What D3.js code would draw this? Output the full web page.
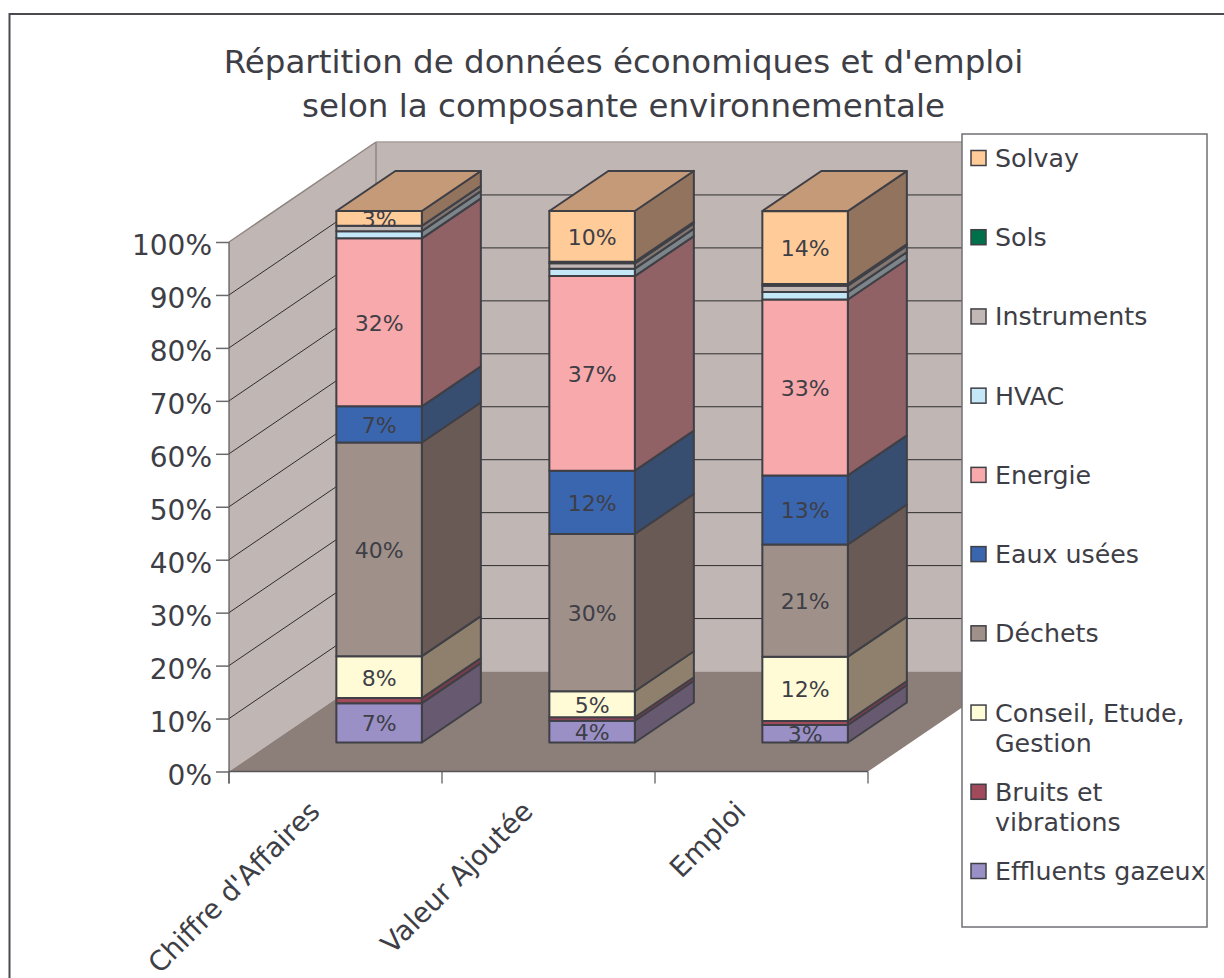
<!DOCTYPE html>
<html><head><meta charset="utf-8">
<script src="https://cdn.jsdelivr.net/npm/d3@7/dist/d3.min.js"></script>
<style>html,body{margin:0;padding:0;background:#fff;overflow:hidden}svg{display:block}text{font-family:"DejaVu Sans",Verdana,sans-serif;fill:#3e3e46}</style>
</head><body><svg id="c" width="1224" height="978"></svg>
<script>
const categories = ["Chiffre d'Affaires", "Valeur Ajoutée", "Emploi"];
const seriesNames = ["Effluents gazeux", "Bruits et vibrations", "Conseil, Etude, Gestion", "Déchets", "Eaux usées", "Energie", "HVAC", "Instruments", "Sols", "Solvay"];
const effluents = [7.4, 4.1, 3.3];
const bruits = [0.95, 0.65, 0.75];
const conseil = [7.9, 4.9, 12.1];
const dechets = [40.2, 29.6, 21.1];
const eaux = [6.8, 11.9, 13.0];
const energie = [31.6, 36.6, 33.1];
const hvac = [1.36, 1.4, 1.4];
const instruments = [1.0, 1.0, 1.2];
const sols = [0.0, 0.3, 0.3];
const solvay = [2.8, 9.6, 13.7];
const yTicks = [0, 10, 20, 30, 40, 50, 60, 70, 80, 90, 100];
const titleLines = ["Répartition de données économiques et d'emploi", "selon la composante environnementale"];

const frontColors = ["#9a90c6", "#a04a5c", "#fffbd6", "#9f908a", "#3a66b0", "#f8a9ac", "#c4e8f8", "#c1b7b4", "#00704a", "#ffcc99"];
const sideColors = ["#675a70", "#7c3c4c", "#8f7f6d", "#6a5a55", "#384e70", "#906165", "#7c8589", "#807672", "#2a4a3f", "#91735e"];
const topColor = "#c49a78";
const ink = "#3f3f46";

const svg = d3.select("#c");
const allSeries = [effluents, bruits, conseil, dechets, eaux, energie, hvac, instruments, sols, solvay];
const rows = categories.map((c, i) => {
  const r = {cat: c};
  seriesNames.forEach((s, k) => r[s] = allSeries[k][i]);
  return r;
});
const stacked = d3.stack().keys(seriesNames)(rows);

// frame
svg.append("rect").attr("x", 9.5).attr("y", 14).attr("width", 1300).attr("height", 1100)
  .attr("fill", "#fff").attr("stroke", "#4a4a50").attr("stroke-width", 2);

// title
svg.append("g").selectAll("text").data(titleLines).join("text")
  .attr("x", 623.5).attr("y", (d, i) => 73 + i * 44).attr("text-anchor", "middle")
  .attr("font-size", 32.5).text(d => d);

// scales
const xBand = d3.scaleBand().domain(categories).range([229, 868]);
const yAxisScale = d3.scaleLinear().domain([0, 100]).range([771.5, 242]);
const yBar = d3.scaleLinear().domain([0, 100]).range([742.5, 211]);
const wallDx = 147, wallDy = -100;
const barDx = 59, barDy = -40, barW = 85.5, barShift = 43.6;
const path = pts => "M" + pts.map(p => p.join(",")).join("L") + "Z";

// walls and floor
const y0 = yAxisScale(0), y100 = yAxisScale(100);
svg.append("path").attr("d", path([[229, y0], [229, y100], [229 + wallDx, y100 + wallDy], [229 + wallDx, y0 + wallDy]])).attr("fill", "#c0b6b3");
svg.append("path").attr("d", path([[229 + wallDx, y100 + wallDy], [1100, y100 + wallDy], [1100, y0 + wallDy], [229 + wallDx, y0 + wallDy]])).attr("fill", "#c0b6b3");
svg.append("path").attr("d", path([[229, y0], [868, y0], [868 + wallDx, y0 + wallDy], [229 + wallDx, y0 + wallDy]])).attr("fill", "#8c7e79");
svg.append("line").attr("x1", 229 + wallDx).attr("x2", 229 + wallDx).attr("y1", y100 + wallDy).attr("y2", y0 + wallDy).attr("stroke", "#8f8582").attr("stroke-width", 1.5);
svg.append("line").attr("x1", 229).attr("x2", 229 + wallDx).attr("y1", y100).attr("y2", y100 + wallDy).attr("stroke", "#8f8582").attr("stroke-width", 1.5);
svg.append("line").attr("x1", 229 + wallDx).attr("x2", 1100).attr("y1", y100 + wallDy).attr("y2", y100 + wallDy).attr("stroke", "#a89e9b").attr("stroke-width", 1.5);

// gridlines
const grid = svg.append("g").attr("fill", "none").attr("stroke", "#2e2e2e").attr("stroke-width", 1);
yTicks.filter(t => t > 0 && t < 100).forEach(t => {
  const y = yAxisScale(t);
  grid.append("path").attr("d", `M229,${y}L${229 + wallDx},${y + wallDy}L1100,${y + wallDy}`);
});

// y axis
const yAxis = d3.axisLeft(yAxisScale).tickValues(yTicks).tickFormat(d => d + "%").tickSize(13).tickPadding(4);
const gy = svg.append("g").attr("transform", "translate(229,0)").call(yAxis);
gy.selectAll("text").attr("font-size", 28).attr("fill", "#3e3e46").attr("dy", "0.46em").style("font-family", '"DejaVu Sans",sans-serif');
gy.selectAll("line").attr("stroke", "#6a6a6e").attr("stroke-width", 1.5);
gy.select(".domain").attr("stroke", "#55555a").attr("stroke-width", 1.2).attr("d", `M229,${y100}V${y0 + 12}`).attr("transform", "translate(-229,0)");

// x axis
const gx = svg.append("g");
gx.append("line").attr("x1", 229).attr("x2", 868).attr("y1", y0).attr("y2", y0).attr("stroke", "#55555a").attr("stroke-width", 1.5);
[0, 1, 2, 3].forEach(i => {
  const x = 229 + i * xBand.step();
  gx.append("line").attr("x1", x).attr("x2", x).attr("y1", y0).attr("y2", y0 + 12).attr("stroke", "#55555a").attr("stroke-width", 1.2);
});
gx.selectAll("text").data(categories).join("text")
  .attr("text-anchor", "end").attr("font-size", 27.5)
  .attr("transform", d => `translate(${xBand(d) + xBand.bandwidth() / 2 - 14},813) rotate(-45)`)
  .text(d => d);

// bars
const gb = svg.append("g").attr("stroke", ink).attr("stroke-width", 2).attr("stroke-linejoin", "round");
const labels = [];
categories.forEach((c, i) => {
  const x0 = xBand(c) + xBand.bandwidth() / 2 + barShift - barW / 2, x1 = x0 + barW;
  stacked.forEach((layer, k) => {
    const v0 = layer[i][0], v1 = layer[i][1];
    if (v1 - v0 <= 0) return;
    const yb = yBar(v0), yt = yBar(v1);
    gb.append("path").attr("fill", sideColors[k]).attr("d", path([[x1, yb], [x1 + barDx, yb + barDy], [x1 + barDx, yt + barDy], [x1, yt]]));
    gb.append("path").attr("fill", frontColors[k]).attr("d", path([[x0, yb], [x1, yb], [x1, yt], [x0, yt]]));
    if (v1 - v0 >= 2.5) labels.push({x: (x0 + x1) / 2, y: (yb + yt) / 2, t: Math.round(v1 - v0) + "%"});
  });
  const yTop = yBar(100);
  gb.append("path").attr("fill", topColor).attr("d", path([[x0, yTop], [x1, yTop], [x1 + barDx, yTop + barDy], [x0 + barDx, yTop + barDy]]));
});
svg.append("g").selectAll("text").data(labels).join("text")
  .attr("x", d => d.x).attr("y", d => d.y + 8.5).attr("text-anchor", "middle").attr("font-size", 22).text(d => d.t);

// legend
svg.append("rect").attr("x", 962).attr("y", 134).attr("width", 245).attr("height", 793).attr("fill", "#fff").attr("stroke", "#707076").attr("stroke-width", 1.5);
const legendNames = seriesNames.slice().reverse();
const legendCenters = d3.scaleLinear().domain([0, 9]).range([158, 871]);
const legendWrap = {"Conseil, Etude, Gestion": ["Conseil, Etude,", "Gestion"], "Bruits et vibrations": ["Bruits et", "vibrations"]};
const gl = svg.append("g").selectAll("g").data(legendNames).join("g")
  .attr("transform", (d, i) => `translate(0,${legendCenters(i)})`);
gl.append("rect").attr("x", 971).attr("y", -7.5).attr("width", 15).attr("height", 15)
  .attr("fill", d => frontColors[seriesNames.indexOf(d)]).attr("stroke", ink).attr("stroke-width", 1.5);
gl.each(function (d) {
  const lines = legendWrap[d] || [d];
  d3.select(this).selectAll("text").data(lines).join("text")
    .attr("x", 995).attr("y", (l, j) => 9 + j * 30.5).attr("font-size", 25.3).text(l => l);
});
</script></body></html>
